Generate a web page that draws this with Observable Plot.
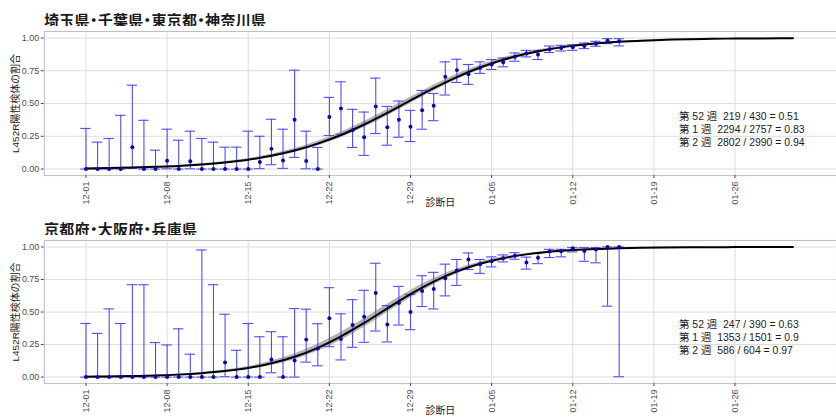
<!DOCTYPE html>
<html>
<head>
<meta charset="utf-8">
<script src="https://cdn.jsdelivr.net/npm/d3@7"></script>
<script src="https://cdn.jsdelivr.net/npm/@observablehq/plot@0.6"></script>
<style>
  html, body { margin: 0; padding: 0; background: #fff; overflow: hidden; width: 836px; height: 419px; }
  .title { position: absolute; left: 44px; font-family: "Noto Sans CJK JP", sans-serif; font-weight: 700;
           font-size: 15px; line-height: 1; color: #1a1a1a; white-space: nowrap;
           font-feature-settings: "halt"; letter-spacing: 0.3px; }
  .panel { position: absolute; left: 0; }
</style>
</head>
<body>
<div class="title" id="t1" style="top:12px"></div>
<div class="panel" id="p1" style="top:26px"></div>
<div class="title" id="t2" style="top:221px"></div>
<div class="panel" id="p2" style="top:235px"></div>
<script>
// Diagnosis dates (Dec 2021 - Jan 2022), one sample group per day
const days = [
  "12-01","12-02","12-03","12-04","12-05","12-06","12-07","12-08","12-09","12-10",
  "12-11","12-12","12-13","12-14","12-15","12-16","12-17","12-18","12-19","12-20",
  "12-21","12-22","12-23","12-24","12-25","12-26","12-27","12-28","12-29","12-30",
  "12-31","01-01","01-02","01-03","01-04","01-05","01-06","01-07","01-08","01-09",
  "01-10","01-11","01-12","01-13","01-14","01-15","01-16"
];

// 埼玉県・千葉県・東京都・神奈川県: daily share of L452R-positive samples with 95% interval
const kantoRatio = [
  0, 0, 0, 0, 0.167, 0, 0, 0.063, 0, 0.06,
  0, 0, 0, 0, 0, 0.053, 0.154, 0.066, 0.377, 0.061,
  0, 0.397, 0.463, 0.296, 0.243, 0.478, 0.319, 0.377, 0.322, 0.448,
  0.483, 0.704, 0.755, 0.724, 0.772, 0.798, 0.815, 0.856, 0.881, 0.874,
  0.914, 0.924, 0.929, 0.939, 0.957, 0.98, 0.975
];
const kantoLower = [
  0, 0, 0, 0, 0.005, 0, 0, 0.002, 0, 0.002,
  0, 0, 0, 0, 0, 0.003, 0.033, 0.005, 0.089, 0.002,
  0, 0.256, 0.266, 0.165, 0.104, 0.271, 0.182, 0.243, 0.21, 0.304,
  0.369, 0.565, 0.661, 0.646, 0.73, 0.76, 0.78, 0.823, 0.856, 0.836,
  0.889, 0.901, 0.906, 0.919, 0.937, 0.957, 0.94
];
const kantoUpper = [
  0.31, 0.205, 0.233, 0.41, 0.64, 0.372, 0.144, 0.304, 0.22, 0.289,
  0.233, 0.205, 0.167, 0.167, 0.289, 0.25, 0.38, 0.304, 0.754, 0.289,
  0.165, 0.547, 0.666, 0.456, 0.435, 0.694, 0.478, 0.519, 0.448, 0.6,
  0.577, 0.818, 0.838, 0.798, 0.818, 0.836, 0.848, 0.886, 0.906, 0.906,
  0.939, 0.944, 0.949, 0.962, 0.975, 0.995, 0.995
];

// 京都府・大阪府・兵庫県
const kansaiRatio = [
  0, 0, 0, 0, 0, 0, 0, 0, 0, 0,
  0, 0, 0.112, 0, 0, 0, 0.135, 0, 0.127, 0.288,
  0.219, 0.453, 0.293, 0.40, 0.463, 0.646, 0.405, 0.57, 0.50, 0.662,
  0.677, 0.759, 0.82, 0.904, 0.868, 0.891, 0.913, 0.932, 0.881, 0.918,
  0.965, 0.967, 0.99, 0.969, 0.98, 1.0, 1.0
];
const kansaiLower = [
  0, 0, 0, 0, 0, 0, 0, 0, 0, 0,
  0, 0, 0.003, 0, 0, 0, 0.033, 0, 0, 0.115,
  0.087, 0.234, 0.132, 0.229, 0.267, 0.354, 0.27, 0.40, 0.364, 0.542,
  0.524, 0.624, 0.705, 0.827, 0.797, 0.847, 0.885, 0.906, 0.83, 0.872,
  0.919, 0.924, 0.962, 0.89, 0.878, 0.545, 0.003
];
const kansaiUpper = [
  0.412, 0.336, 0.524, 0.412, 0.71, 0.71, 0.265, 0.247, 0.371, 0.176,
  0.977, 0.71, 0.483, 0.206, 0.412, 0.31, 0.349, 0.31, 0.527, 0.522,
  0.41, 0.687, 0.486, 0.595, 0.667, 0.875, 0.55, 0.697, 0.635, 0.779,
  0.805, 0.868, 0.904, 0.954, 0.904, 0.924, 0.939, 0.956, 0.922, 0.953,
  0.982, 0.982, 0.995, 0.995, 0.995, 1.0, 1.0
];

// Fitted logistic growth curve, sampled every other day, with its confidence half-width
const curveDays = [
  "12-01","12-03","12-05","12-07","12-09","12-11","12-13","12-15","12-17","12-19",
  "12-21","12-23","12-25","12-27","12-29","12-31","01-02","01-04","01-06","01-08",
  "01-10","01-12","01-14","01-16","01-18","01-20","01-22","01-24","01-26","01-28",
  "01-30","01-31"
];
const kantoFit = [
  0.005, 0.008, 0.011, 0.017, 0.024, 0.035, 0.050, 0.071, 0.101, 0.141,
  0.194, 0.260, 0.340, 0.429, 0.524, 0.617, 0.702, 0.775, 0.834, 0.880,
  0.915, 0.940, 0.958, 0.971, 0.980, 0.986, 0.991, 0.994, 0.996, 0.997,
  0.998, 0.998
];
const kantoFitHalf = [
  0.001, 0.001, 0.002, 0.003, 0.004, 0.005, 0.007, 0.009, 0.012, 0.015,
  0.018, 0.021, 0.023, 0.024, 0.024, 0.023, 0.021, 0.018, 0.015, 0.012,
  0.009, 0.007, 0.005, 0.004, 0.003, 0.002, 0.001, 0.001, 0.001, 0.001,
  0, 0
];
const kansaiFit = [
  0.003, 0.005, 0.008, 0.012, 0.019, 0.030, 0.046, 0.070, 0.106, 0.156,
  0.225, 0.313, 0.416, 0.528, 0.637, 0.734, 0.812, 0.871, 0.914, 0.943,
  0.963, 0.976, 0.985, 0.990, 0.994, 0.996, 0.997, 0.998, 0.999, 0.999,
  1.0, 1.0
];
const kansaiFitHalf = [
  0.001, 0.001, 0.002, 0.003, 0.004, 0.006, 0.008, 0.012, 0.017, 0.022,
  0.027, 0.031, 0.033, 0.032, 0.029, 0.024, 0.019, 0.014, 0.010, 0.007,
  0.005, 0.004, 0.003, 0.002, 0.001, 0.001, 0.001, 0, 0, 0,
  0, 0
];

// Weekly totals printed inside each panel
const kantoNotes = ["第 52 週\u00a0 219 / 430 = 0.51", "第 1 週\u00a0 2294 / 2757 = 0.83", "第 2 週\u00a0 2802 / 2990 = 0.94"];
const kansaiNotes = ["第 52 週\u00a0 247 / 390 = 0.63", "第 1 週\u00a0 1353 / 1501 = 0.9", "第 2 週\u00a0 586 / 604 = 0.97"];
const noteLevels = [0.4, 0.3, 0.2];

// Axis ticks and labels
const xTickDays = ["12-01","12-08","12-15","12-22","12-29","01-05","01-12","01-19","01-26"];
const yTicks = [0, 0.25, 0.5, 0.75, 1];
const titles = ["埼玉県・千葉県・東京都・神奈川県", "京都府・大阪府・兵庫県"];
const yLabel = "L452R陽性検体の割合";
const xLabel = "診断日";

const parse = md => new Date(Date.UTC(md.startsWith("12") ? 2021 : 2022, +md.slice(0, 2) - 1, +md.slice(3)));
const hours = (date, h) => new Date(date.getTime() + h * 3600e3);
const start = parse("12-01");
const xDomain = [hours(start, -3.6 * 24), hours(start, 64.75 * 24)];
const noteDate = hours(parse("01-21"), 4);
const tickDates = xTickDays.map(parse);

const font = '"Liberation Sans", "Noto Sans CJK JP", sans-serif';
const barColor = "#4d4df7";
const gridColor = "#dcdcdc";

function panel({ratio, lower, upper, fit, half, notes, inner}) {
  const pts = days.map((d, i) => ({date: parse(d), r: ratio[i], lo: lower[i], hi: upper[i]}));
  const fitRows = curveDays.map((d, i) => ({date: parse(d), p: fit[i], lo: fit[i] - half[i], hi: fit[i] + half[i]}));
  const noteRows = notes.map((text, i) => ({text, y: noteLevels[i]}));
  const capL = d => hours(d.date, -0.45 * 24);
  const capR = d => hours(d.date, 0.45 * 24);
  return Plot.plot({
    width: 841,
    height: 5 + inner + 38,
    marginLeft: 44,
    marginRight: 0,
    marginTop: 5,
    marginBottom: 38,
    style: {fontFamily: font, fontSize: "10px", background: "#fff", overflow: "visible"},
    x: {type: "utc", domain: xDomain},
    y: {domain: [-0.05, 1.05]},
    marks: [
      Plot.gridY(yTicks, {stroke: gridColor, strokeOpacity: 1}),
      Plot.gridX(tickDates, {stroke: gridColor, strokeOpacity: 1}),
      Plot.frame({stroke: "#bdbdbd"}),
      Plot.areaY(fitRows, {x: "date", y1: "lo", y2: "hi", fill: "#9a9a9a", fillOpacity: 0.75, curve: "monotone-x"}),
      Plot.ruleX(pts, {x: "date", y1: "lo", y2: "hi", stroke: barColor, strokeWidth: 1.1}),
      Plot.ruleY(pts, {y: "hi", x1: capL, x2: capR, stroke: barColor, strokeWidth: 1.1}),
      Plot.ruleY(pts, {y: "lo", x1: capL, x2: capR, stroke: barColor, strokeWidth: 1.1}),
      Plot.lineY(fitRows, {x: "date", y: "p", stroke: "#000", strokeWidth: 2, curve: "monotone-x"}),
      Plot.dot(pts, {x: "date", y: "r", r: 2, fill: "#0a0aa0", stroke: null}),
      Plot.text(noteRows, {x: () => noteDate, y: "y", text: "text", textAnchor: "start", fontSize: 10.5, fill: "#1a1a1a"}),
      Plot.axisY(yTicks, {tickFormat: d3.format(".2f"), tickSize: 3, tickPadding: 2, fontSize: 9, color: "#4d4d4d", label: null}),
      Plot.axisX(tickDates, {tickFormat: d3.utcFormat("%m-%d"), tickRotate: -90, tickSize: 3, tickPadding: 3, fontSize: 9, color: "#4d4d4d", label: null}),
      Plot.text([yLabel], {frameAnchor: "left", textAnchor: "middle", dx: -29, rotate: -90, fontSize: 10, fill: "#1a1a1a"}),
      Plot.text([xLabel], {frameAnchor: "bottom", dy: 31, fontSize: 10, fill: "#1a1a1a"})
    ]
  });
}

document.getElementById("t1").textContent = titles[0];
document.getElementById("t2").textContent = titles[1];

document.getElementById("p1").append(panel({
  ratio: kantoRatio, lower: kantoLower, upper: kantoUpper,
  fit: kantoFit, half: kantoFitHalf, notes: kantoNotes, inner: 145
}));
document.getElementById("p2").append(panel({
  ratio: kansaiRatio, lower: kansaiLower, upper: kansaiUpper,
  fit: kansaiFit, half: kansaiFitHalf, notes: kansaiNotes, inner: 144
}));
</script>
</body>
</html>
